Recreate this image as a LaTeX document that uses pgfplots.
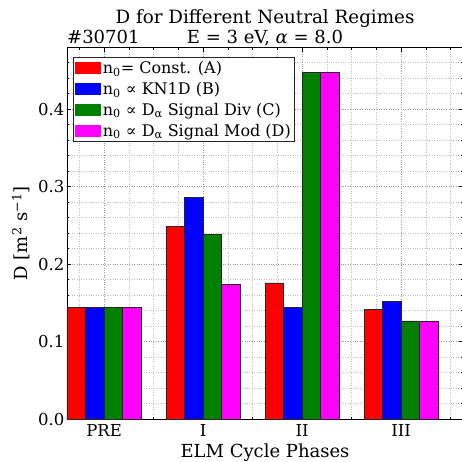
\documentclass[border=0pt]{standalone}
\usepackage{fontspec}
\setmainfont{DejaVu Serif}
\usepackage{pgfplots}
\pgfplotsset{compat=1.18}
\definecolor{cgreen}{HTML}{008000}
\definecolor{cmag}{HTML}{FF00FF}
\definecolor{cred}{HTML}{FF0000}
\definecolor{cblue}{HTML}{0000FF}
\begin{document}
\begin{tikzpicture}
\begin{axis}[
  name=ax,
  at={(0pt,0pt)}, anchor=south west,
  scale only axis, width=396pt, height=372pt,
  xmin=0, xmax=4, ymin=0, ymax=0.48,
  ybar=0pt, bar width=0.1875,
  xtick={0.375,1.375,2.375,3.375}, xticklabels={PRE,I,II,III},
  minor xtick={0.125,0.625,0.875,1.125,1.625,1.875,2.125,2.625,2.875,3.125,3.625,3.875},
  ytick={0,0.1,0.2,0.3,0.4},
  minor ytick={0.02,0.04,0.06,0.08,0.12,0.14,0.16,0.18,0.22,0.24,0.26,0.28,0.32,0.34,0.36,0.38,0.42,0.44,0.46},
  grid=both,
  major grid style={dotted, line width=0.7pt, black!40},
  minor grid style={dotted, line width=0.7pt, black!25},
  tick align=inside,
  major tick length=4.5pt, minor tick length=2.5pt,
  every tick/.style={black, line width=0.6pt},
  axis line style={black, line width=0.8pt},
  /pgf/number format/assume math mode=true,
  yticklabel style={xshift=1pt, /pgf/number format/.cd, fixed, fixed zerofill, precision=1},
  tick label style={font=\fontsize{16.5}{19}\selectfont},
  xticklabel style={anchor=base, yshift=-16.8pt},
  xlabel={ELM Cycle Phases},
  ylabel={D [m\textsuperscript{2} s\textsuperscript{−1}]},
  label style={font=\fontsize{18}{21}\selectfont},
  xlabel style={at={(axis description cs:0.5,0)}, anchor=base, yshift=-38pt},
  ylabel style={at={(axis description cs:-0.116,0.5)}, anchor=center},
  legend cell align=left,
  legend image code/.code={\fill[#1, draw=none] (0pt,-6pt) rectangle (26pt,6pt);},
  legend style={at={(axis description cs:0.0152,0.974)}, anchor=north west,
    font=\fontsize{16}{18}\selectfont, draw=black!85, line width=0.7pt,
    inner xsep=2pt, inner ysep=2.5pt, row sep=4pt,
    nodes={inner xsep=1.5pt, inner ysep=1.6pt}},
  every axis plot/.append style={draw=black!85, line width=0.6pt},
]
\addplot[fill=cred] coordinates {(0.375,0.144) (1.375,0.249) (2.375,0.176) (3.375,0.142)};
\addplot[fill=cblue] coordinates {(0.375,0.144) (1.375,0.286) (2.375,0.144) (3.375,0.152)};
\addplot[fill=cgreen] coordinates {(0.375,0.144) (1.375,0.239) (2.375,0.448) (3.375,0.127)};
\addplot[fill=cmag] coordinates {(0.375,0.144) (1.375,0.174) (2.375,0.448) (3.375,0.126)};
\legend{n\textsubscript{0}= Const. (A), n\textsubscript{0} ∝ KN1D (B), n\textsubscript{0} ∝ D\textsubscript{α} Signal Div (C), n\textsubscript{0} ∝ D\textsubscript{α} Signal Mod (D)}
\end{axis}
\node[anchor=base, font=\fontsize{18.3}{21}\selectfont] at ([yshift=24pt]ax.north) {D for Different Neutral Regimes};
\node[anchor=base, font=\fontsize{18}{21}\selectfont] at ([yshift=3.3pt]ax.north) {E = 3 eV, \textit{α} = 8.0};
\node[anchor=base west, inner xsep=0pt, font=\fontsize{18}{21}\selectfont] at ([yshift=3.3pt]ax.north west) {\#30701};
\pgfresetboundingbox
\useasboundingbox (-67pt,-42.7pt) rectangle (394pt,419.3pt);
\end{tikzpicture}
\end{document}
